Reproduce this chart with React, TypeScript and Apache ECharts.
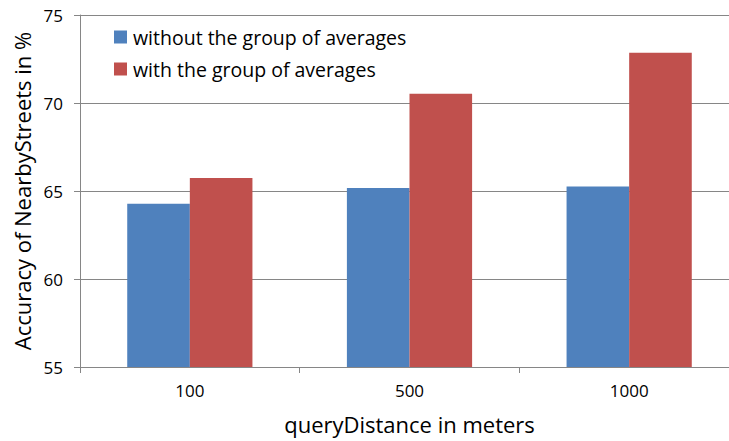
import React, { useEffect, useRef } from "react";
import * as echarts from "echarts";

const categories = ["100", "500", "1000"];
const withoutGroup = [64.28, 65.17, 65.26];
const withGroup = [65.74, 70.53, 72.86];
const seriesNames = ["without the group of averages", "with the group of averages"];

const FONT = "'Open Sans', Lato, sans-serif";

export default function App() {
  const ref = useRef<HTMLDivElement>(null);

  useEffect(() => {
    if (!ref.current) return;
    const chart = echarts.init(ref.current, null, { renderer: "svg" });
    chart.setOption({
      animation: false,
      backgroundColor: "#ffffff",
      textStyle: { fontFamily: FONT },
      grid: {
        left: 80,
        top: 15,
        bottom: 74,
        width: 659,
        containLabel: false,
        outerBoundsMode: "none",
      },
      legend: {
        orient: "vertical",
        left: 114,
        top: 27,
        padding: 0,
        itemWidth: 13,
        itemHeight: 13,
        itemGap: 12,
        icon: "rect",
        textStyle: { fontSize: 19.5, color: "#000", fontFamily: FONT, padding: [0, 0, 0, 1] },
        data: seriesNames,
      },
      xAxis: {
        type: "category",
        data: categories,
        name: "queryDistance in meters",
        nameLocation: "middle",
        nameGap: 46,
        nameTextStyle: { fontSize: 22, color: "#000", fontFamily: FONT },
        axisLine: { lineStyle: { color: "#868686", width: 1 } },
        axisTick: { show: true, length: 6, lineStyle: { color: "#868686" } },
        axisLabel: { fontSize: 17, color: "#000", margin: 15, fontFamily: FONT },
      },
      yAxis: {
        type: "value",
        min: 55,
        max: 75,
        interval: 5,
        name: "Accuracy of NearbyStreets in %",
        nameLocation: "middle",
        nameGap: 33,
        nameTextStyle: { fontSize: 22, color: "#000", fontFamily: FONT },
        axisLine: { show: true, lineStyle: { color: "#868686", width: 1 } },
        axisTick: { show: true, length: 6, lineStyle: { color: "#868686" } },
        axisLabel: { fontSize: 17, color: "#000", margin: 17, fontFamily: FONT },
        splitLine: { lineStyle: { color: "#868686", width: 1 } },
      },
      series: [
        {
          name: seriesNames[0],
          type: "bar",
          data: withoutGroup,
          barGap: "0%",
          barCategoryGap: "43%",
          itemStyle: { color: "#4F81BD" },
        },
        {
          name: seriesNames[1],
          type: "bar",
          data: withGroup,
          itemStyle: { color: "#C0504D" },
        },
      ],
    });
    return () => chart.dispose();
  }, []);

  return <div ref={ref} style={{ width: 729, height: 441, position: "absolute", left: 0, top: 0 }} />;
}
